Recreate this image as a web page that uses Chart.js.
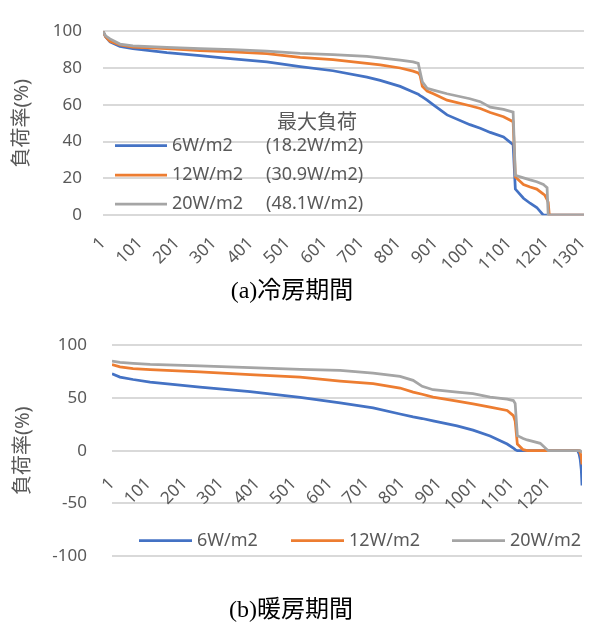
<!DOCTYPE html>
<html><head><meta charset="utf-8">
<script src="https://cdn.jsdelivr.net/npm/chart.js@4.4.1/dist/chart.umd.min.js"></script>
<style>
html,body{margin:0;padding:0;background:#fff;}
#wrap{position:relative;width:600px;height:630px;overflow:hidden;}
canvas{position:absolute;left:0;}
</style></head><body>
<div id="wrap">
<canvas id="c1" width="600" height="310" style="top:0px"></canvas>
<canvas id="c2" width="600" height="320" style="top:310px"></canvas>
</div>
<script>
// ---- data ----
const seriesLabels = ['6W/m2', '12W/m2', '20W/m2'];
const maxLoadTitle = '最大負荷';
const maxLoadLabels = ['(18.2W/m2)', '(30.9W/m2)', '(48.1W/m2)'];
const titleCool = '(a)冷房期間';
const titleHeat = '(b)暖房期間';
const yTitle = '負荷率(%)';

const coolXTicks = [1, 101, 201, 301, 401, 501, 601, 701, 801, 901, 1001, 1101, 1201, 1301];
const coolYTicks = [0, 20, 40, 60, 80, 100];
const heatXTicks = [1, 101, 201, 301, 401, 501, 601, 701, 801, 901, 1001, 1101, 1201];
const heatYTicks = [-100, -50, 0, 50, 100];

const coolIdx = [1, 8, 20, 47, 82, 174, 264, 353, 445, 535, 624, 716, 752, 806, 841, 855, 860, 866, 879, 896, 933, 995, 1023, 1050, 1086, 1112, 1118, 1140, 1158, 1176, 1194, 1198, 1204, 1207, 1210, 1304];
const cool6  = [100, 97, 94.2, 91.7, 90.5, 88.3, 86.7, 85, 83.3, 80.8, 78.5, 75, 73.3, 70, 67, 65.8, 65, 64.3, 62.5, 60, 54.5, 49.2, 47.3, 45, 42.5, 38.3, 14.2, 9.2, 6.5, 4.2, 0, 0, 0, 0, 0, 0];
const cool12 = [100, 97, 94.5, 92.5, 91.3, 90.5, 89.5, 88.8, 87.8, 85.8, 84.5, 82.5, 81.7, 80, 78.3, 77.3, 76, 70, 67.5, 66, 62.5, 59.5, 58, 55.8, 53.5, 50.8, 20.8, 16.7, 15.3, 14.2, 11.5, 10.8, 8.5, 7, 0, 0];
const cool20 = [100, 97.5, 95.8, 93, 92, 91.2, 90.5, 90, 89.2, 88, 87.3, 86.3, 85.5, 84.3, 83.3, 82.5, 78, 72.5, 69, 68, 66, 63.3, 61.7, 58.7, 57.5, 56, 21.7, 20.3, 19.2, 18.2, 16.7, 16, 15, 0, 0, 0];

const heatIdx = [1, 23, 59, 106, 243, 381, 519, 629, 720, 794, 830, 855, 885, 951, 995, 1042, 1089, 1106, 1111, 1117, 1133, 1144, 1180, 1202, 1283, 1287, 1290, 1293, 1295];
const heat6  = [73, 69.8, 67.5, 65, 60.3, 56, 50.5, 45.4, 40.6, 34.8, 32, 30.5, 28.3, 23.5, 19.5, 14, 6.3, 2.5, 1, 0, 0, 0, 0, 0, 0, -3, -8, -18, -33];
const heat12 = [81.6, 79.5, 77.8, 76.8, 74.6, 72.2, 69.8, 66, 63.5, 59.4, 55.5, 53.5, 50.8, 47, 44.4, 41.3, 38.1, 33.3, 28, 6.3, 1, 0, 0, 0, 0, 0, -2, -6, -13];
const heat20 = [85, 83.8, 82.8, 81.8, 80.3, 78.7, 77.1, 76.2, 73.6, 70.5, 66.7, 61, 57.8, 55.5, 54, 50.8, 48.8, 47.5, 44.8, 14.3, 11.5, 10.2, 7, 0, 0, 0, 0, -1, -2];

const colors = ['#4472C4', '#ED7D31', '#A5A5A5'];

// ---- helpers ----
const pts = (xs, ys) => xs.map((x, i) => ({x: x, y: ys[i]}));
Chart.defaults.font.family = "'Noto Sans', 'Noto Sans CJK JP', sans-serif";
Chart.defaults.color = '#595959';

const legendPlugin = {
  id: 'customLegend',
  afterDraw(chart, args, o) {
    const ctx = chart.ctx;
    ctx.save();
    ctx.textBaseline = 'middle';
    ctx.fillStyle = '#595959';
    ctx.lineCap = 'butt';
    chart.data.datasets.forEach((ds, i) => {
      const x = o.xs[i], y = o.ys[i];
      ctx.strokeStyle = ds.borderColor;
      ctx.lineWidth = ds.borderWidth;
      ctx.beginPath(); ctx.moveTo(x, y); ctx.lineTo(x + o.swatch, y); ctx.stroke();
      ctx.font = o.font;
      ctx.fillText(ds.label, x + o.swatch + o.gap, y);
      if (o.extra) ctx.fillText(o.extra[i], o.extraX, y);
    });
    if (o.header) {
      ctx.font = o.headerFont;
      ctx.fillText(o.header, o.headerX, o.headerY);
    }
    ctx.restore();
  }
};

function makeDatasets(a, b, c, idx) {
  return [a, b, c].map((ys, i) => ({
    label: seriesLabels[i],
    data: pts(idx, ys),
    borderColor: colors[i],
    backgroundColor: colors[i],
    borderWidth: 2.75,
    pointRadius: 0,
    tension: 0,
    order: 3 - i
  }));
}

const gridColor = '#d9d9d9';

function makeOptions(cfg) {
  return {
    responsive: false,
    animation: false,
    events: [],
    layout: {padding: {top: cfg.padTop, right: cfg.padRight, left: 0, bottom: 0}},
    plugins: {
      legend: {display: false},
      tooltip: {enabled: false},
      title: {
        display: true, position: 'bottom', text: cfg.title, color: '#000',
        font: {family: "'Liberation Serif', 'Noto Sans CJK JP', serif", size: 24, weight: 'normal', lineHeight: 1.2},
        padding: cfg.titlePad
      },
      customLegend: cfg.legend
    },
    scales: {
      x: {
        type: 'linear', min: 1, max: cfg.xMax,
        position: cfg.xPos,
        afterBuildTicks: s => { s.ticks = cfg.xTicks.map(v => ({value: v})); },
        afterFit: s => {
          if (cfg.xHeight) s.height = cfg.xHeight;
          s.paddingRight = 0; s.paddingLeft = 0;
        },
        grid: {display: false, drawTicks: false},
        border: {display: false},
        ticks: {autoSkip: false, maxRotation: 45, minRotation: 45, padding: cfg.xTickPad,
                font: {size: 17}, color: '#595959', callback: v => String(v)}
      },
      y: {
        min: cfg.yTicks[0], max: cfg.yTicks[cfg.yTicks.length - 1],
        afterBuildTicks: s => { s.ticks = cfg.yTicks.map(v => ({value: v})); },
        afterFit: s => { s.width = cfg.yWidth; },
        grid: {color: gridColor, lineWidth: 2, drawTicks: false},
        border: {display: false},
        ticks: {padding: cfg.yTickPad, font: {size: 17}, color: '#595959', callback: v => String(v)},
        title: {display: true, text: yTitle, color: '#595959', font: {size: 20}, padding: {top: cfg.yTitlePad, bottom: 0}}
      }
    }
  };
}

new Chart(document.getElementById('c1'), {
  type: 'line',
  data: {datasets: makeDatasets(cool6, cool12, cool20, coolIdx)},
  options: makeOptions({
    padTop: 15, padRight: 16, title: titleCool, titlePad: {top: 2, bottom: 4},
    xMax: 1304, xPos: 'bottom', xTicks: coolXTicks, xHeight: 60, xTickPad: 18,
    yTicks: coolYTicks, yWidth: 103, yTickPad: 21, yTitlePad: 10,
    legend: {xs: [115, 115, 115], ys: [145.5, 175, 204], swatch: 52, gap: 5,
             font: "18px 'Noto Sans', 'Noto Sans CJK JP', sans-serif",
             extra: maxLoadLabels, extraX: 266,
             header: maxLoadTitle, headerX: 277, headerY: 121,
             headerFont: "20px 'Noto Sans CJK JP', sans-serif"}
  }),
  plugins: [legendPlugin]
});

new Chart(document.getElementById('c2'), {
  type: 'line',
  data: {datasets: makeDatasets(heat6, heat12, heat20, heatIdx)},
  options: makeOptions({
    padTop: 34, padRight: 18, title: titleHeat, titlePad: {top: 40, bottom: 5},
    xMax: 1295, xPos: {y: 0}, xTicks: heatXTicks, xHeight: 0, xTickPad: 23,
    yTicks: heatYTicks, yWidth: 112, yTickPad: 25, yTitlePad: 11,
    legend: {xs: [139, 291, 452], ys: [230.7, 230.7, 230.7], swatch: 53, gap: 5,
             font: "18px 'Noto Sans', 'Noto Sans CJK JP', sans-serif"}
  }),
  plugins: [legendPlugin]
});
</script>
</body></html>
